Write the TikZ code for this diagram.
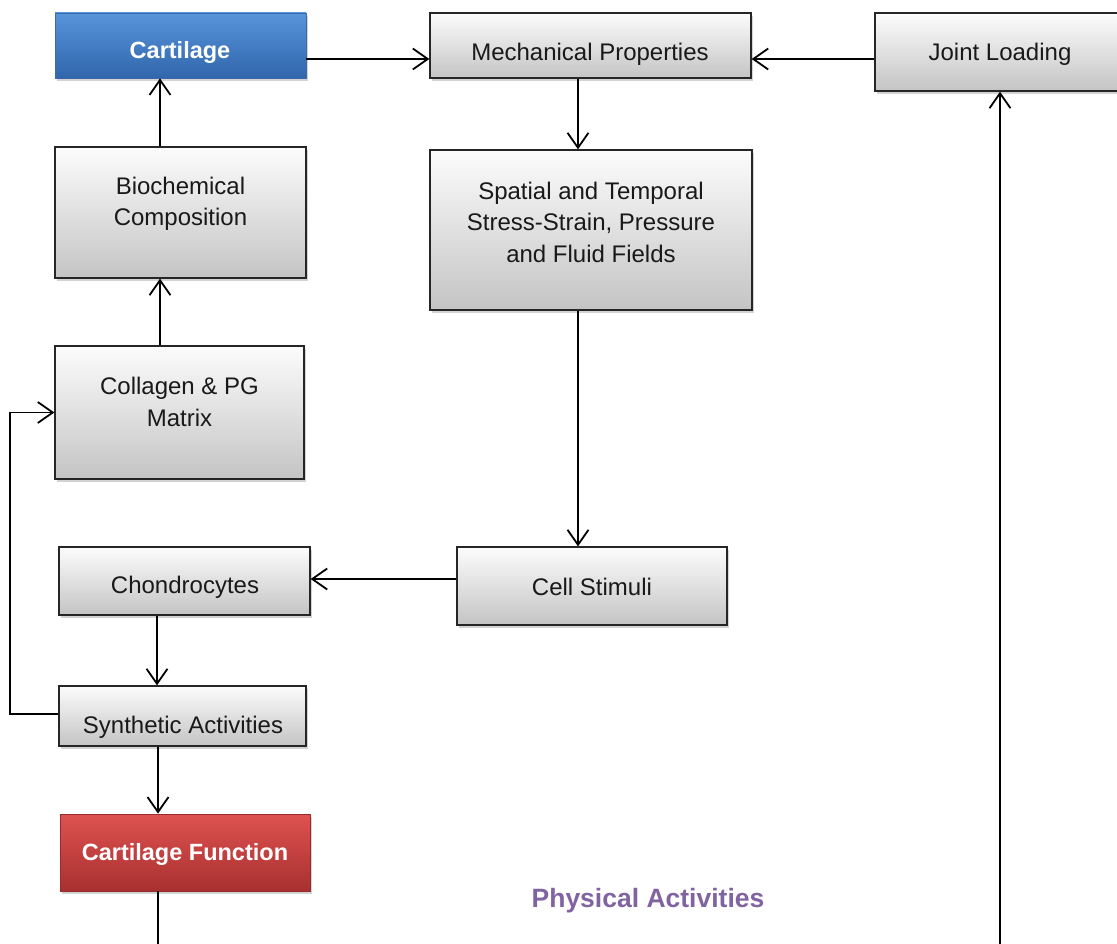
\documentclass[tikz,border=0pt]{standalone}
\usepackage{fontspec}
\setmainfont{Liberation Sans}
\usetikzlibrary{arrows.meta,shadows}
\definecolor{gtop}{RGB}{252,252,252}
\definecolor{gbot}{RGB}{196,196,196}
\definecolor{btop}{RGB}{88,148,218}
\definecolor{bbot}{RGB}{48,102,172}
\definecolor{bedge}{RGB}{60,105,170}
\definecolor{rtop}{RGB}{222,82,80}
\definecolor{rbot}{RGB}{168,48,48}
\definecolor{redge}{RGB}{150,45,45}
\definecolor{purp}{RGB}{128,100,162}
\tikzset{
  box/.style={draw=black!85, line width=1.3pt, top color=gtop, bottom color=gbot,
    drop shadow={opacity=0.35, shadow xshift=2pt, shadow yshift=-3pt},
    inner sep=0pt},
  bluebox/.style={draw=bedge, line width=0.8pt, top color=btop, bottom color=bbot,
    drop shadow={opacity=0.35, shadow xshift=2pt, shadow yshift=-3pt},
    inner sep=0pt},
  redbox/.style={draw=redge, line width=0.8pt, top color=rtop, bottom color=rbot,
    drop shadow={opacity=0.35, shadow xshift=2pt, shadow yshift=-3pt},
    inner sep=0pt},
  txt/.style={font=\fontsize{24}{31.5}\selectfont, align=center, text=black!90, inner sep=0pt},
  wtxt/.style={font=\fontsize{23.5}{31.5}\selectfont\bfseries, align=center, text=white, inner sep=0pt},
  conn/.style={line width=1.8pt, -{Straight Barb[length=15pt,width=21pt,line width=1.8pt]}},
  plain/.style={line width=1.8pt}
}
\begin{document}
\begin{tikzpicture}[x=1pt,y=-1pt]
\useasboundingbox (0,0) rectangle (1117,944);
\clip (0,0) rectangle (1117,944);
% boxes
\node[bluebox, minimum width=251pt, minimum height=65pt] (cart) at (180.5,45.5) {};
\node[box, minimum width=321pt, minimum height=65pt] (mech) at (590.5,45.5) {};
\node[box, minimum width=250pt, minimum height=78pt] (joint) at (1000,52) {};
\node[box, minimum width=251pt, minimum height=131pt] (bio) at (180.5,212.5) {};
\node[box, minimum width=322pt, minimum height=160pt] (spat) at (591,230) {};
\node[box, minimum width=249pt, minimum height=133pt] (coll) at (179.5,412.5) {};
\node[box, minimum width=251pt, minimum height=68pt] (chon) at (184.5,581) {};
\node[box, minimum width=270pt, minimum height=78pt] (cell) at (592,586) {};
\node[box, minimum width=247pt, minimum height=60pt] (synth) at (182.5,716) {};
\node[redbox, minimum width=250pt, minimum height=77pt] (func) at (185,852.5) {};
% texts
\node[wtxt] (tcart) at (180,52) {Cartilage};
\node[txt] (tmech) at (590,54) {Mechanical Properties};
\node[txt] (tjoint) at (1000,54) {Joint Loading};
\node[txt] (tbio) at (180.5,204) {Biochemical\\Composition};
\node[txt] (tspat) at (591,222) {Spatial and Temporal\\Stress-Strain, Pressure\\and Fluid Fields};
\node[txt] (tcoll) at (179.5,402) {Collagen \& PG\\Matrix};
\node[txt] (tchon) at (185,587) {Chondrocytes};
\node[txt] (tcell) at (592,587) {Cell Stimuli};
\node[txt] (tsynth) at (183,727) {Synthetic Activities};
\node[wtxt] (tfunc) at (185,854) {Cartilage Function};
\node[font=\fontsize{26.5}{31.5}\selectfont\bfseries, text=purp, inner sep=0pt] (phys) at (648,901) {Physical Activities};
% connector ends
\coordinate (loopx) at (10,714);
\coordinate (funcend) at (158,960);
\coordinate (jointend) at (1000,960);
% connectors
\draw[conn] ([yshift=-13.5pt]cart.east) -- ([yshift=-13.5pt]mech.west);
\draw[conn] ([yshift=-7pt]joint.west) -- ([yshift=-13.5pt]mech.east);
\draw[conn] ([xshift=-12.5pt]mech.south) -- ([xshift=-13pt]spat.north);
\draw[conn] ([xshift=-13pt]spat.south) -- ([xshift=-14pt]cell.north);
\draw[conn] ([yshift=7pt]cell.west) -- ([yshift=2pt]chon.east);
\draw[conn] ([xshift=-27.5pt]chon.south) -- ([xshift=-25.5pt]synth.north);
\draw[conn] ([yshift=2pt]synth.west) -| (loopx |- coll.west) -- (coll.west);
\draw[conn] ([xshift=-19.5pt]coll.north) -- ([xshift=-20.5pt]bio.south);
\draw[conn] ([xshift=-20.5pt]bio.north) -- ([xshift=-20.5pt]cart.south);
\draw[conn] ([xshift=-24.5pt]synth.south) -- ([xshift=-27pt]func.north);
\draw[plain] ([xshift=-27pt]func.south) -- (funcend);
\draw[conn] (jointend) -- (joint.south);
\end{tikzpicture}
\end{document}
